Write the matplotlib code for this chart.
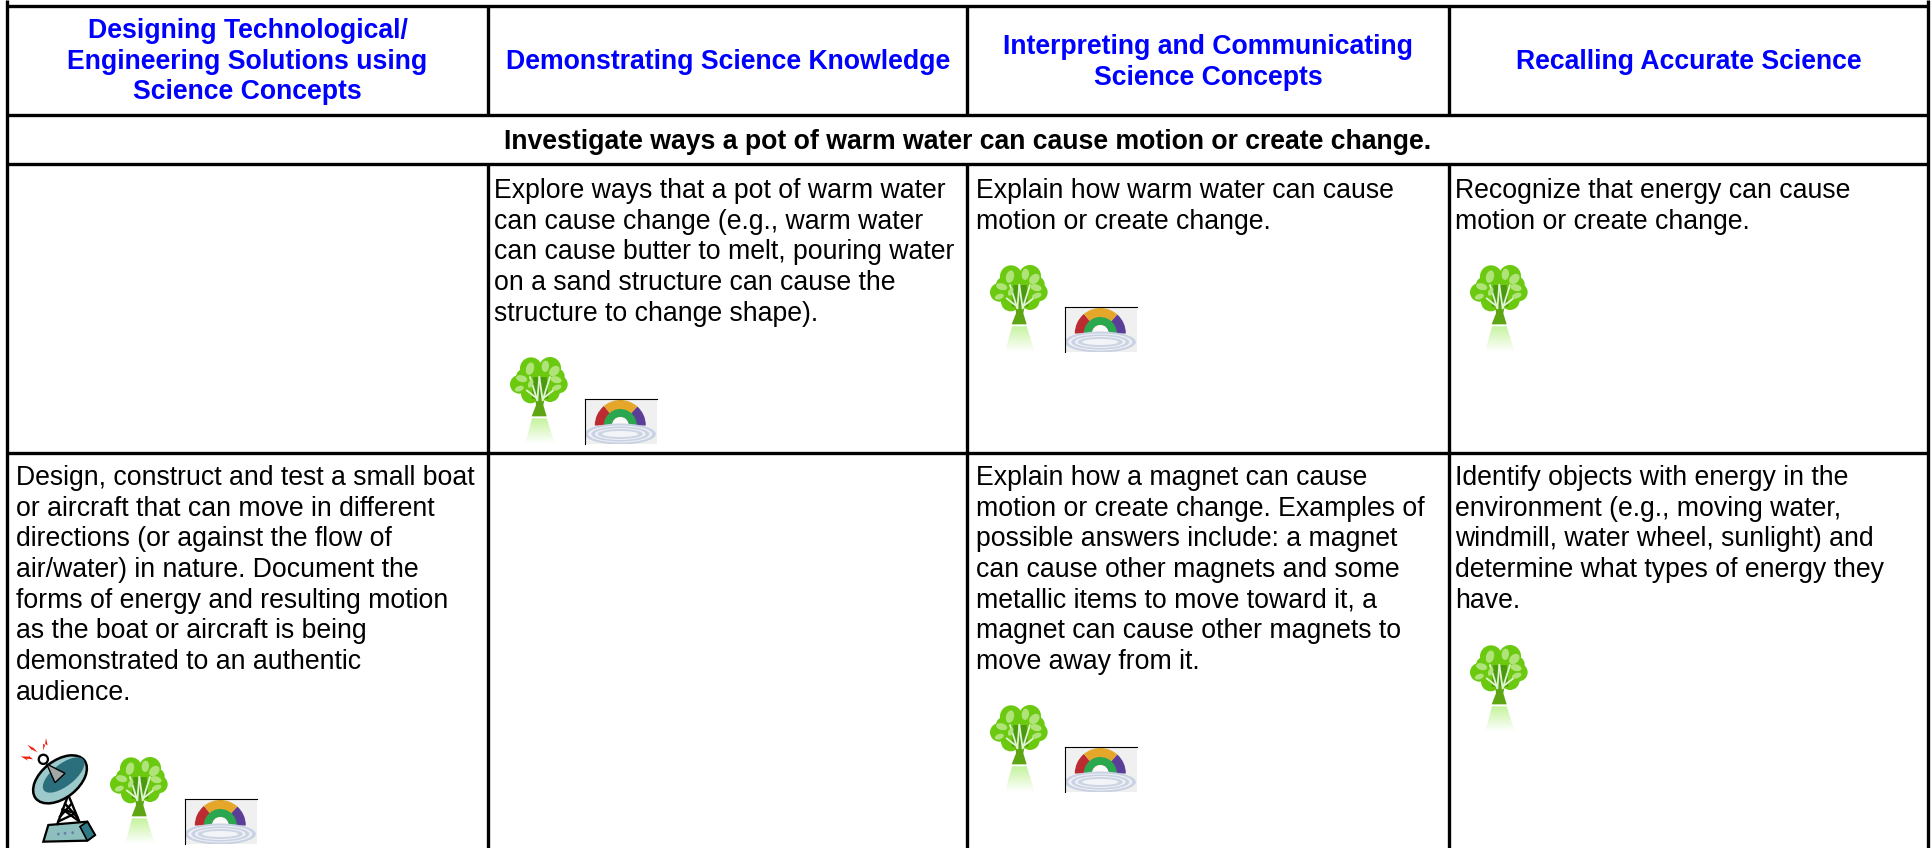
import numpy as np
import matplotlib
matplotlib.use("Agg")
import matplotlib.pyplot as plt
from matplotlib.patches import Circle, Ellipse, Polygon, Rectangle, Wedge

# ---- text content ----
HEADERS = [
    ["Designing Technological/", "Engineering Solutions using", "Science Concepts"],
    ["Demonstrating Science Knowledge"],
    ["Interpreting and Communicating", "Science Concepts"],
    ["Recalling Accurate Science"],
]
HEADER_BASELINES = [[38, 69, 99], [69], [54, 85], [69]]
ROW_TITLE = "Investigate ways a pot of warm water can cause motion or create change."
ROW1_CELLS = [
    [],
    ["Explore ways that a pot of warm water", "can cause change (e.g., warm water",
     "can cause butter to melt, pouring water", "on a sand structure can cause the",
     "structure to change shape)."],
    ["Explain how warm water can cause", "motion or create change."],
    ["Recognize that energy can cause", "motion or create change."],
]
ROW2_CELLS = [
    ["Design, construct and test a small boat", "or aircraft that can move in different",
     "directions (or against the flow of", "air/water) in nature. Document the",
     "forms of energy and resulting motion", "as the boat or aircraft is being",
     "demonstrated to an authentic", "audience."],
    [],
    ["Explain how a magnet can cause", "motion or create change. Examples of",
     "possible answers include: a magnet", "can cause other magnets and some",
     "metallic items to move toward it, a", "magnet can cause other magnets to",
     "move away from it."],
    ["Identify objects with energy in the", "environment (e.g., moving water,",
     "windmill, water wheel, sunlight) and", "determine what types of energy they",
     "have."],
]

# ---- layout (pixels) ----
W, H = 1933, 848
COL_X = [7, 488, 967.5, 1449, 1928]
ROW_Y = [5.5, 115, 164, 453]
TEXT_X = [16, 494.5, 976, 1455]
FIRST_BASE = [198, 485]
LINE_STEP = 30.7
TREES = [(510, 357), (990, 265), (1470, 265), (110, 757), (990, 705), (1470, 645)]
RAINBOWS = [(585, 399), (1065, 307), (185, 799), (1065, 747)]
DISH = (0, 720)

plt.rcParams["font.family"] = ["Liberation Sans", "DejaVu Sans"]
fig = plt.figure(figsize=(W / 100, H / 100), dpi=100, facecolor="white")
ax = fig.add_axes([0, 0, 1, 1])
ax.set_axis_off()

LW = 2.4


def draw_tree(x0, y0):
    s = 1 / 3
    def P(x, y):
        return (x0 + (x - 30) * s, y0 + (y - 50) * s)
    green = "#6BC90F"
    for (cx, cy, r) in [(93, 84, 33), (150, 83, 33), (58, 132, 28), (176, 132, 27),
                        (92, 160, 29), (150, 156, 29), (120, 120, 45), (72, 110, 24), (170, 108, 24)]:
        ax.add_patch(Circle(P(cx, cy), r * s, fc=green, ec="none", zorder=3))
    ax.add_patch(Polygon([P(100, 110), P(140, 110), P(145, 175), P(95, 175)], fc="#4A9A12", ec="none", zorder=3.1))
    ax.add_patch(Polygon([P(95, 228), P(140, 228), P(130, 195), P(134, 172), P(106, 172), P(108, 195)],
                         fc="#5DA512", ec="none", zorder=3.2))
    for (a, b) in [((112, 180), (90, 110)), ((112, 180), (118, 110)), ((128, 180), (118, 110)),
                   ((128, 180), (150, 110)), ((108, 172), (80, 150)), ((132, 172), (160, 150))]:
        ax.plot(*zip(P(*a), P(*b)), color="#E2F4CF", lw=1.3, solid_capstyle="round", zorder=3.3)
    for (cx, cy, w, h, ang) in [(90, 85, 24, 38, 15), (136, 78, 22, 34, 5), (163, 92, 26, 36, 45),
                                (65, 115, 34, 20, 15), (168, 118, 34, 20, 15), (58, 145, 28, 16, -20),
                                (170, 142, 30, 16, -20), (92, 130, 14, 26, 25)]:
        ax.add_patch(Ellipse(P(cx, cy), w * s, h * s, angle=ang, fc="#B0E47A", ec="none", zorder=3.4))
    # reflection
    rgba = np.zeros((32, 1, 4))
    rgba[..., :3] = matplotlib.colors.to_rgb("#9CEB5C")
    rgba[..., 3] = np.linspace(0.6, 0, 32)[:, None]
    a0, b0 = P(75, 234), P(165, 312)
    im = ax.imshow(rgba, extent=(a0[0], b0[0], b0[1], a0[1]), aspect="auto", zorder=3, interpolation="bilinear")
    clip = Polygon([P(96, 234), P(140, 234), P(165, 312), P(75, 312)], transform=ax.transData, fc="none", ec="none")
    ax.add_patch(clip)
    im.set_clip_path(clip)


def draw_rainbow(x0, y0):
    bw, bh = 72, 45
    ax.add_patch(Rectangle((x0, y0), bw, bh, fc="#F0F0F0", ec="none", zorder=3))
    cx, cy = x0 + 35.3, y0 + 26.5
    for t1, t2, c in [(-180, -130, "#BD2B32"), (-130, -48, "#E5A72A"), (-48, 0, "#5A3E98")]:
        ax.add_patch(Wedge((cx, cy), 25.5, t1, t2, fc=c, ec="none", zorder=3.1))
    ax.add_patch(Wedge((cx, cy), 16.5, -180, 0, width=8, fc="#2BA84F", ec="none", zorder=3.2))
    ax.add_patch(Wedge((cx, cy), 8.5, -180, 0, fc="#FAFAFA", ec="none", zorder=3.2))
    for w, h, c in [(71, 21, "#C9D2E2"), (64, 17, "#EEF0F5"), (58, 15, "#C9D2E2"), (51, 12, "#EEF0F5"),
                    (45, 10, "#CDD5E4"), (36, 6, "#F3F4F7")]:
        e = Ellipse((cx, y0 + 35), w, h, fc=c, ec="none", zorder=3.3)
        ax.add_patch(e)
        e.set_clip_path(Rectangle((x0, y0), bw, bh, transform=ax.transData))
    ax.plot([x0, x0 + bw], [y0, y0], color="black", lw=0.8, zorder=3.5)
    ax.plot([x0, x0], [y0, y0 + bh], color="black", lw=0.8, zorder=3.5)


def draw_dish(x0, y0):
    s = 1 / 3
    def P(x, y):
        return (x0 + x * s, y0 + y * s)
    ax.add_patch(Polygon([P(130, 365), P(145, 315), P(262, 305), P(285, 345), P(262, 362)],
                         fc="#8DBFBE", ec="black", lw=1.6, zorder=3))
    ax.add_patch(Polygon([P(262, 305), P(285, 345), P(262, 362), P(240, 320)], fc="#2F7A85", ec="black", lw=1.2, zorder=3.05))
    for p in [(175, 342), (195, 340), (218, 338)]:
        ax.add_patch(Circle(P(*p), 1.4, fc="#6A7FA8", ec="none", zorder=3.1))
    for a, b in [((205, 225), (172, 312)), ((205, 225), (238, 305)), ((188, 268), (226, 280)),
                 ((214, 252), (180, 290)), ((196, 252), (232, 292)), ((176, 304), (226, 280)), ((188, 268), (235, 302))]:
        ax.plot(*zip(P(*a), P(*b)), color="black", lw=1.7, zorder=3.1)
    ang = -38
    ax.add_patch(Ellipse(P(180, 178), 185 * s, 112 * s, angle=ang, fc="#9CC9C9", ec="black", lw=1.8, zorder=3.2))
    ax.add_patch(Ellipse(P(191, 165), 150 * s, 66 * s, angle=ang, fc="#2C6F7C", ec="none", zorder=3.25))
    ax.add_patch(Polygon([P(140, 132), P(195, 160), P(165, 188)], fc="#A0A8A8", ec="black", lw=1.0, zorder=3.3))
    ax.add_patch(Circle(P(130, 118), 4.6, fc="white", ec="black", lw=1.6, zorder=3.4))
    for pts in [[(82, 74), (100, 84), (95, 78), (113, 97), (94, 88), (98, 94)],
                [(138, 54), (143, 76), (136, 72), (130, 92), (129, 72), (135, 74)],
                [(62, 109), (88, 110), (84, 105), (99, 118), (80, 116), (84, 122)]]:
        ax.add_patch(Polygon([P(*q) for q in pts], fc="#F02010", ec="none", zorder=3.4))


# ---- grid ----
for x in (COL_X[0], COL_X[-1]):
    ax.plot([x, x], [0, H], color="black", lw=LW, solid_capstyle="butt", zorder=5)
for y in ROW_Y:
    ax.plot([COL_X[0], COL_X[-1]], [y, y], color="black", lw=LW, solid_capstyle="butt", zorder=5)
for x in COL_X[1:-1]:
    ax.plot([x, x], [ROW_Y[0], ROW_Y[1]], color="black", lw=LW, solid_capstyle="butt", zorder=5)
    ax.plot([x, x], [ROW_Y[2], H], color="black", lw=LW, solid_capstyle="butt", zorder=5)

# ---- text ----
FS = 19.2
for i, lines in enumerate(HEADERS):
    cx = (COL_X[i] + COL_X[i + 1]) / 2
    for line, base in zip(lines, HEADER_BASELINES[i]):
        ax.text(cx, base, line, ha="center", va="baseline", fontsize=FS, fontweight="bold", color="#0000FF")
ax.text((COL_X[0] + COL_X[-1]) / 2, 149, ROW_TITLE, ha="center", va="baseline", fontsize=FS, fontweight="bold", color="black")
for cells, first in zip((ROW1_CELLS, ROW2_CELLS), FIRST_BASE):
    for i, lines in enumerate(cells):
        for j, line in enumerate(lines):
            ax.text(TEXT_X[i], first + j * LINE_STEP, line, ha="left", va="baseline", fontsize=FS, color="black")

# ---- icons ----
for t in TREES:
    draw_tree(*t)
for r in RAINBOWS:
    draw_rainbow(*r)
draw_dish(*DISH)

ax.set_xlim(0, W)
ax.set_ylim(H, 0)
fig.savefig("out.png", dpi=100, facecolor="white")
